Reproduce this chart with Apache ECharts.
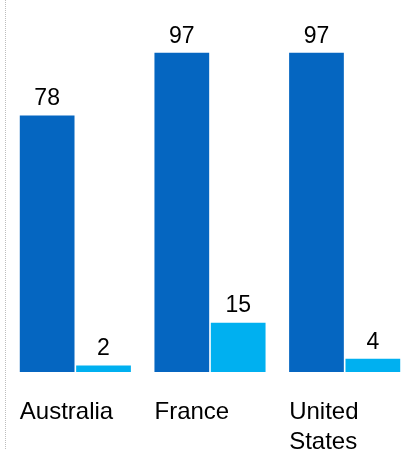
<!DOCTYPE html>
<html>
<head>
<meta charset="utf-8">
<script src="https://cdn.jsdelivr.net/npm/echarts@6/dist/echarts.min.js"></script>
<style>
  html, body { margin: 0; padding: 0; background: #fff; }
  #chart { width: 401px; height: 450px; }
</style>
</head>
<body>
<div id="chart"></div>
<script>
const categories = ['Australia', 'France', 'United States'];
const seriesA = [78, 97, 97];
const seriesB = [2, 15, 4];

const chart = echarts.init(document.getElementById('chart'), null, { renderer: 'canvas' });
const font = '"Liberation Sans", Arial, sans-serif';

chart.setOption({
  animation: false,
  backgroundColor: '#fff',
  grid: { left: 8, width: 404, top: 43, bottom: 78, containLabel: false, outerBoundsMode: 'none' },
  xAxis: {
    type: 'category',
    data: categories,
    axisLine: { show: false },
    axisTick: { show: false },
    axisLabel: {
      margin: 25,
      width: 111,
      align: 'center',
      formatter: v => v.split(' ').map(w => '{a|' + w + '}').join('\n'),
      rich: {
        a: { align: 'left', fontSize: 24, lineHeight: 30.5, color: '#000', fontFamily: font }
      }
    }
  },
  yAxis: {
    type: 'value',
    min: 0,
    max: 100,
    show: false,
    splitLine: { show: false }
  },
  series: [
    {
      type: 'bar',
      data: seriesA,
      barCategoryGap: '17.5%',
      barGap: '3%',
      itemStyle: { color: '#0566C1' },
      label: { show: true, position: 'top', fontSize: 23, color: '#000', fontFamily: font }
    },
    {
      type: 'bar',
      data: seriesB,
      itemStyle: { color: '#00B0F0' },
      label: { show: true, position: 'top', fontSize: 23, color: '#000', fontFamily: font }
    }
  ],
  graphic: [
    {
      type: 'line',
      shape: { x1: 5.5, y1: 0, x2: 5.5, y2: 450 },
      style: { stroke: '#bdbdbd', lineWidth: 1, lineDash: [1, 1] }
    }
  ]
});
</script>
</body>
</html>
